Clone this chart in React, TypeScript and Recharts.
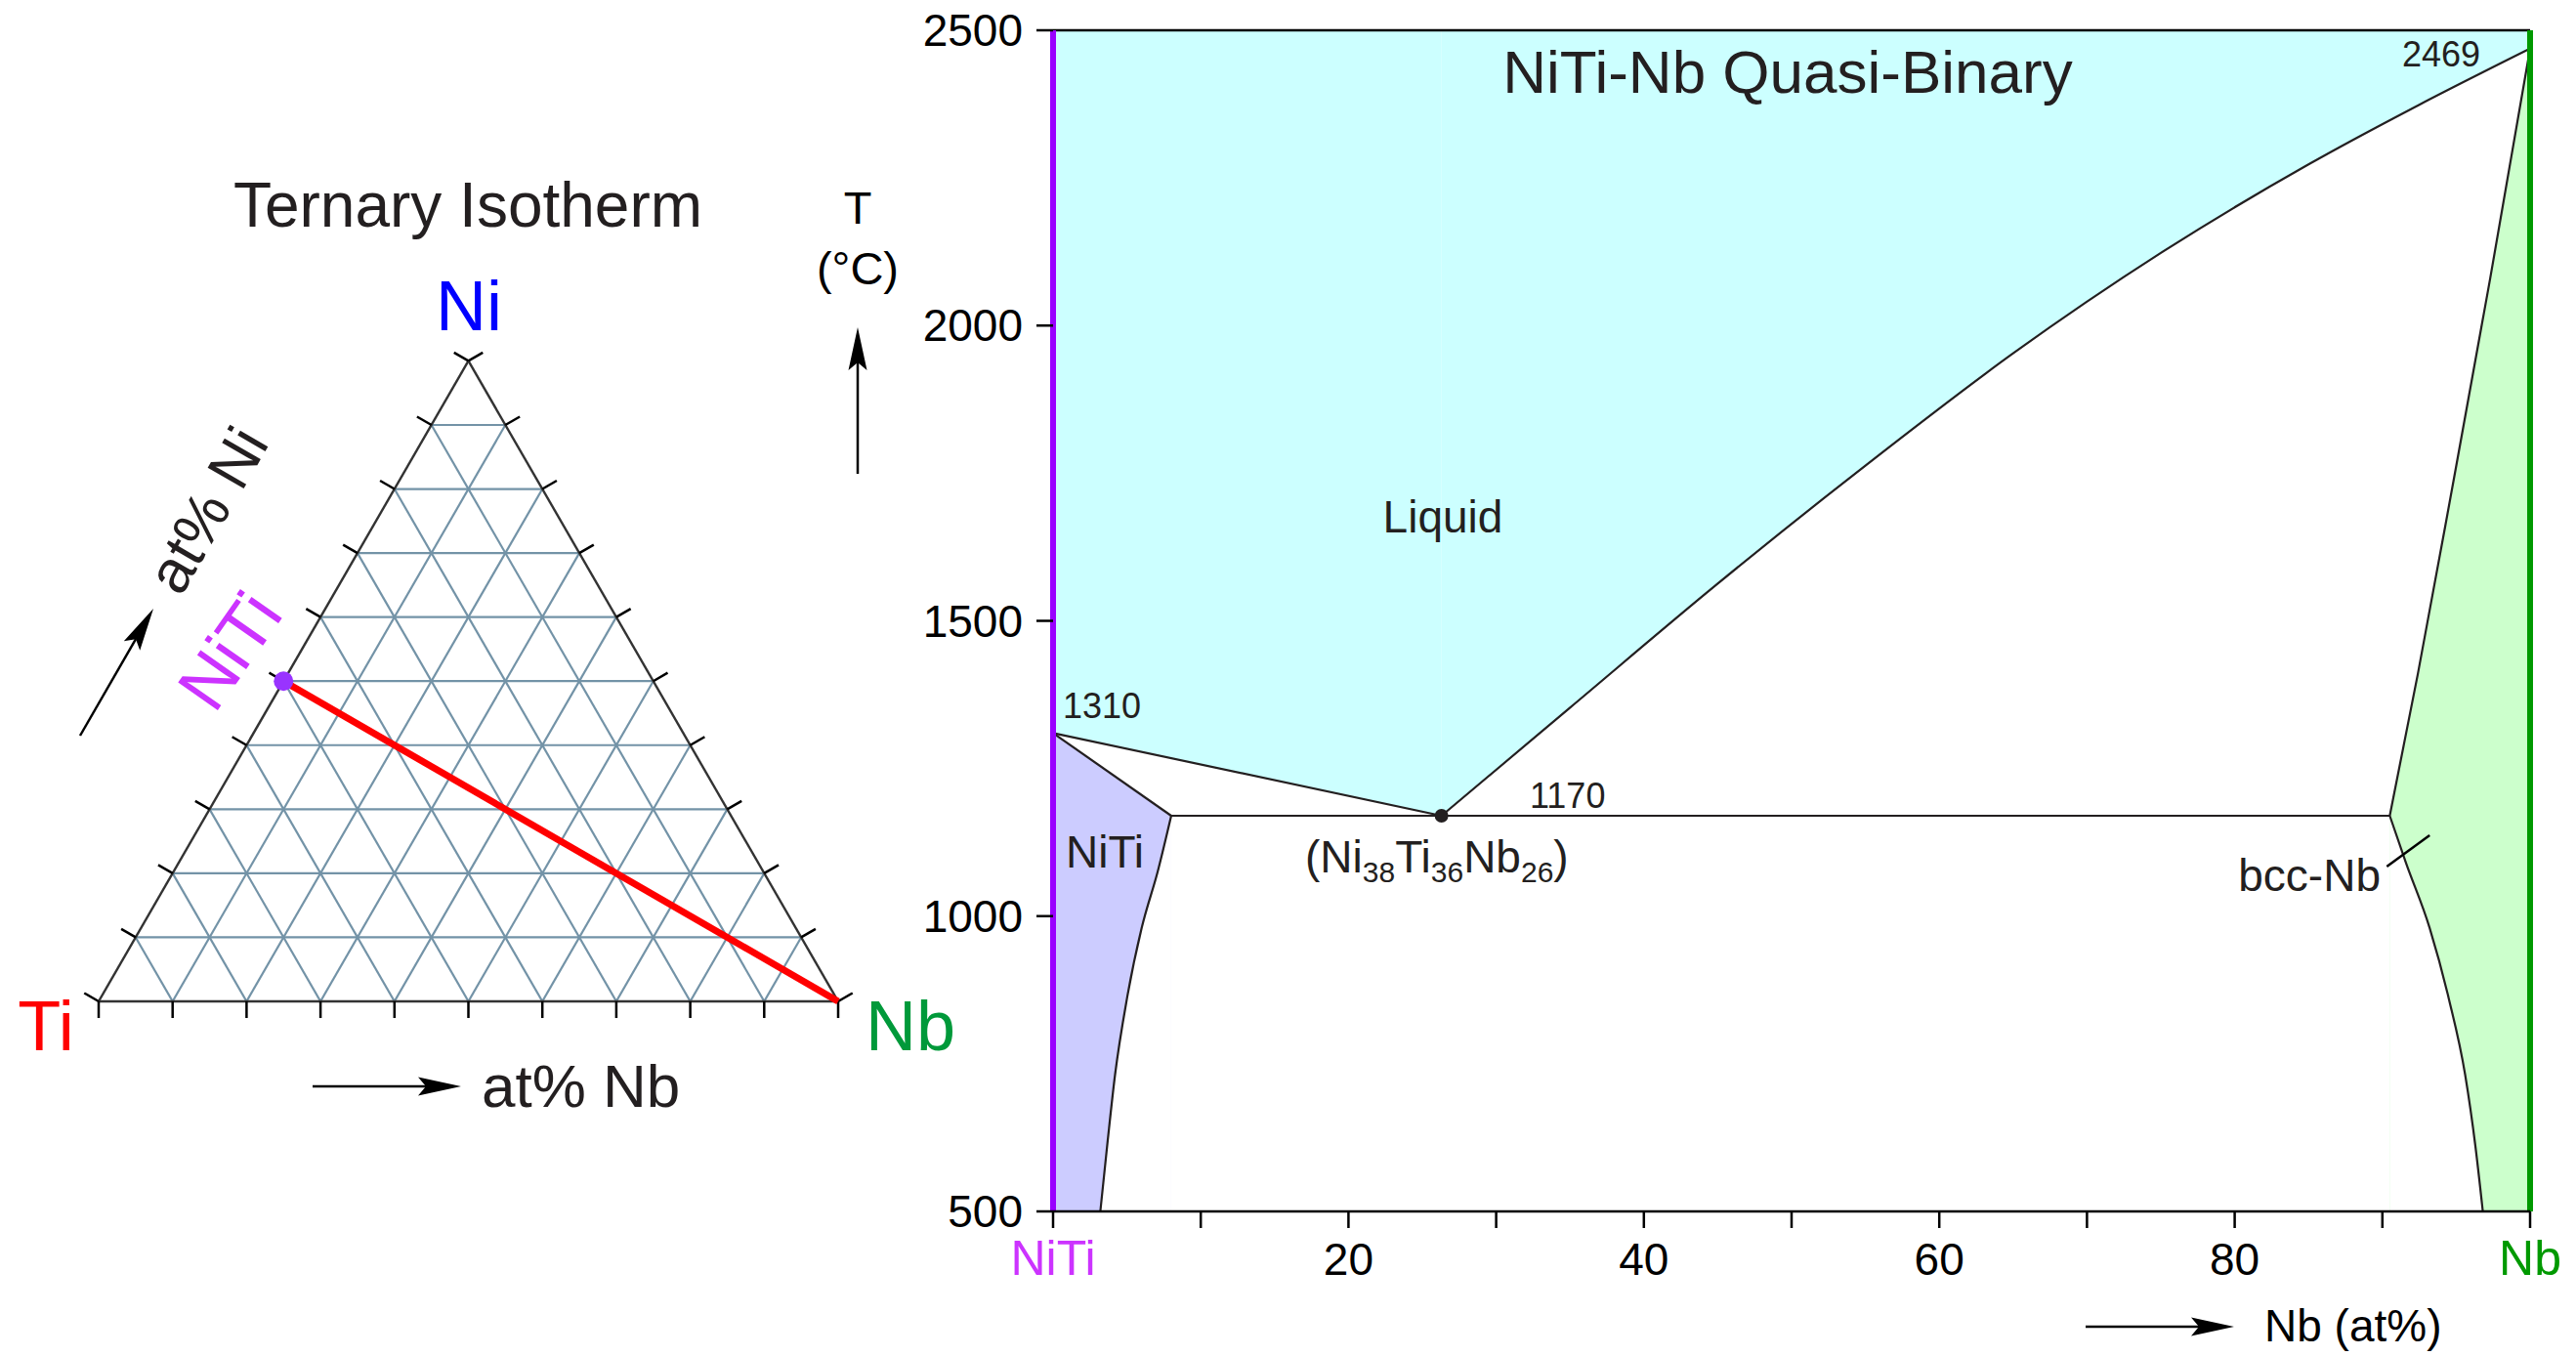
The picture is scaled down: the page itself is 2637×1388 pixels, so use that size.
import React from "react";
import { Area, ComposedChart, Line, Scatter, XAxis, YAxis } from "recharts";

const FONT = "'Liberation Sans', Arial, Helvetica, sans-serif";
const INK = "#231f20";

// NiTi–Nb quasi-binary, x = at% Nb, t = °C
const liquidusLeft = [
  { x: 0, t: 1310 },
  { x: 26.3, t: 1170 }
];
const liquidusRight = [
  { x: 26.3, t: 1170 },
  { x: 35, t: 1353 },
  { x: 45, t: 1563 },
  { x: 55, t: 1763 },
  { x: 65, t: 1953 },
  { x: 75, t: 2123 },
  { x: 85, t: 2273 },
  { x: 92.5, t: 2374 },
  { x: 100, t: 2469 }
];
const niTiSolidus = [
  { x: 0, t: 1310 },
  { x: 8, t: 1170 }
];
const niTiSolvus = [
  { x: 3.2, t: 500 },
  { x: 3.7, t: 620 },
  { x: 4.2, t: 732 },
  { x: 5.0, t: 860 },
  { x: 6.0, t: 980 },
  { x: 7.1, t: 1077 },
  { x: 8, t: 1170 }
];
const eutecticLine = [
  { x: 8, t: 1170 },
  { x: 90.5, t: 1170 }
];
const bccSolidus = [
  { x: 90.5, t: 1170 },
  { x: 92.4, t: 1410 },
  { x: 94.8, t: 1735 },
  { x: 97.3, t: 2080 },
  { x: 100, t: 2469 }
];
const bccSolvus = [
  { x: 90.5, t: 1170 },
  { x: 91.6, t: 1090 },
  { x: 93.2, t: 980 },
  { x: 94.5, t: 860 },
  { x: 95.6, t: 732 },
  { x: 96.3, t: 610 },
  { x: 96.8, t: 500 }
];
const eutecticPoint = [{ x: 26.3, t: 1170 }];
const bccLeader = [
  { x: 90.3, t: 1084 },
  { x: 93.2, t: 1137 }
];

const T_MIN = 500;
const T_MAX = 2500;
const xTicks = [0, 10, 20, 30, 40, 50, 60, 70, 80, 90, 100];
const xTickLabels: Record<number, string> = { 0: "NiTi", 20: "20", 40: "40", 60: "60", 80: "80", 100: "Nb" };
const yTicks = [500, 1000, 1500, 2000, 2500];

// ternary isotherm
const ternaryTicks = [0, 10, 20, 30, 40, 50, 60, 70, 80, 90, 100];
const niTiComposition = { ni: 50, nb: 0 };
const nbComposition = { ni: 0, nb: 100 };

const SQ3 = Math.sqrt(3) / 2;
const toTernary = (ni: number, nb: number) => ({ x: nb + ni / 2, y: ni * SQ3 });
const TICK = 2.25;

const inner = ternaryTicks.filter((k) => k > 0 && k < 100);
const gridSegments = [
  ...inner.map((k) => [toTernary(k, 0), toTernary(k, 100 - k)]),
  ...inner.map((k) => [toTernary(0, k), toTernary(100 - k, k)]),
  ...inner.map((k) => [toTernary(0, 100 - k), toTernary(100 - k, 0)])
];
const edgeSegments = [
  [toTernary(0, 0), toTernary(0, 100)],
  [toTernary(0, 0), toTernary(100, 0)],
  [toTernary(0, 100), toTernary(100, 0)]
];
const tickSegments = [
  ...ternaryTicks.map((k) => {
    const p = toTernary(0, k);
    return [p, { x: p.x, y: p.y - TICK }];
  }),
  ...ternaryTicks.map((k) => {
    const p = toTernary(k, 0);
    return [p, { x: p.x - TICK * SQ3, y: p.y + TICK / 2 }];
  }),
  ...ternaryTicks.map((k) => {
    const p = toTernary(k, 100 - k);
    return [p, { x: p.x + TICK * SQ3, y: p.y + TICK / 2 }];
  })
];
const sectionLine = [
  toTernary(niTiComposition.ni, niTiComposition.nb),
  toTernary(nbComposition.ni, nbComposition.nb)
];

const band = (pts: { x: number; t: number }[], lo?: number, hi?: number) =>
  pts.map((p) => ({ x: p.x, range: [lo ?? p.t, hi ?? p.t] }));

function XTick(props: any) {
  const { x, y, payload } = props;
  const v = payload.value;
  const label = xTickLabels[v];
  if (!label) return <g />;
  const color = v === 0 ? "#cc33ff" : v === 100 ? "#009900" : "#000";
  const size = v === 0 || v === 100 ? 50 : 46;
  return (
    <text x={x} y={y} dy={46} textAnchor="middle" fill={color} fontSize={size} fontFamily={FONT}>
      {label}
    </text>
  );
}

function YTick(props: any) {
  const { x, y, payload } = props;
  return (
    <text x={x} y={y} dx={-12} dy={16} textAnchor="end" fill="#000" fontSize={46} fontFamily={FONT}>
      {payload.value}
    </text>
  );
}

function TernaryChart() {
  return (
    <ComposedChart width={960} height={1388} margin={{ top: 268, right: 26.3, bottom: 287.3, left: 25.3 }}>
      <XAxis dataKey="x" type="number" domain={[-10, 110]} hide height={0} />
      <YAxis type="number" domain={[-10, 100]} hide width={0} />
      {gridSegments.map((seg, i) => (
        <Line key={`g${i}`} data={seg} dataKey="y" stroke="#7393a7" strokeWidth={2.2} dot={false} activeDot={false} isAnimationActive={false} />
      ))}
      {edgeSegments.map((seg, i) => (
        <Line key={`e${i}`} data={seg} dataKey="y" stroke="#333" strokeWidth={2.4} dot={false} activeDot={false} isAnimationActive={false} />
      ))}
      {tickSegments.map((seg, i) => (
        <Line key={`t${i}`} data={seg} dataKey="y" stroke="#000" strokeWidth={2.5} dot={false} activeDot={false} isAnimationActive={false} />
      ))}
      <Line data={sectionLine} dataKey="y" stroke="#ff0000" strokeWidth={7} dot={false} activeDot={false} isAnimationActive={false} />
      <Scatter
        data={[sectionLine[0]]}
        dataKey="y"
        isAnimationActive={false}
        shape={(p: any) => <circle cx={p.cx} cy={p.cy} r={10} fill="#9933ff" />}
      />
    </ComposedChart>
  );
}

function PhaseChart() {
  const common = { isAnimationActive: false, dot: false, activeDot: false, dataKey: "t" } as const;
  return (
    <ComposedChart width={1757} height={1388} margin={{ top: 31, right: 47, bottom: 88, left: 98 }}>
      <Area data={band(liquidusLeft, undefined, T_MAX)} dataKey="range" type="linear" stroke="none" fill="#ccffff" fillOpacity={1} isAnimationActive={false} />
      <Area data={band(liquidusRight, undefined, T_MAX)} dataKey="range" type="monotone" stroke="none" fill="#ccffff" fillOpacity={1} isAnimationActive={false} />
      <Area data={band(niTiSolidus, T_MIN)} dataKey="range" type="linear" stroke="none" fill="#ccccff" fillOpacity={1} isAnimationActive={false} />
      <Area data={band(niTiSolvus, T_MIN)} dataKey="range" type="monotone" stroke="none" fill="#ffffff" fillOpacity={1} isAnimationActive={false} />
      <Area data={band(bccSolidus, T_MIN)} dataKey="range" type="monotone" stroke="none" fill="#ccffcc" fillOpacity={1} isAnimationActive={false} />
      <Area data={band(bccSolvus, T_MIN)} dataKey="range" type="monotone" stroke="none" fill="#ffffff" fillOpacity={1} isAnimationActive={false} />

      <Line data={liquidusLeft} {...common} type="linear" stroke={INK} strokeWidth={2.2} />
      <Line data={liquidusRight} {...common} type="monotone" stroke={INK} strokeWidth={2.2} />
      <Line data={niTiSolidus} {...common} type="linear" stroke={INK} strokeWidth={2.2} />
      <Line data={niTiSolvus} {...common} type="monotone" stroke={INK} strokeWidth={2.2} />
      <Line data={eutecticLine} {...common} type="linear" stroke={INK} strokeWidth={2.2} />
      <Line data={bccSolidus} {...common} type="monotone" stroke={INK} strokeWidth={2.2} />
      <Line data={bccSolvus} {...common} type="monotone" stroke={INK} strokeWidth={2.2} />
      <Line data={bccLeader} {...common} type="linear" stroke="#000" strokeWidth={2.5} />
      <Line data={[{ x: 0, t: T_MAX }, { x: 100, t: T_MAX }]} {...common} type="linear" stroke="#000" strokeWidth={2.5} />
      <Line data={[{ x: 0, t: T_MIN }, { x: 0, t: T_MAX }]} {...common} type="linear" stroke="#9900ff" strokeWidth={6} />
      <Line data={[{ x: 100, t: T_MIN }, { x: 100, t: T_MAX }]} {...common} type="linear" stroke="#009900" strokeWidth={6} />
      <Scatter
        data={eutecticPoint}
        dataKey="t"
        isAnimationActive={false}
        shape={(p: any) => <circle cx={p.cx} cy={p.cy} r={7} fill={INK} />}
      />

      <XAxis
        dataKey="x"
        type="number"
        domain={[0, 100]}
        ticks={xTicks}
        interval={0}
        height={60}
        tickSize={17}
        axisLine={{ stroke: "#000", strokeWidth: 2.5 }}
        tickLine={{ stroke: "#000", strokeWidth: 2.5 }}
        tick={XTick}
      />
      <YAxis
        type="number"
        domain={[T_MIN, T_MAX]}
        ticks={yTicks}
        interval={0}
        width={100}
        tickSize={17}
        axisLine={false}
        tickLine={{ stroke: "#000", strokeWidth: 2.5 }}
        tick={YTick}
      />
    </ComposedChart>
  );
}

function Arrow({ x1, y1, x2, y2 }: { x1: number; y1: number; x2: number; y2: number }) {
  const len = Math.hypot(x2 - x1, y2 - y1);
  const ux = (x2 - x1) / len;
  const uy = (y2 - y1) / len;
  const nx = -uy;
  const ny = ux;
  const head = 44;
  const notch = 36;
  const w = 9.5;
  const bx = x2 - ux * head;
  const by = y2 - uy * head;
  const mx = x2 - ux * notch;
  const my = y2 - uy * notch;
  return (
    <g>
      <line x1={x1} y1={y1} x2={mx} y2={my} stroke="#000" strokeWidth={2.5} />
      <polygon points={`${x2},${y2} ${bx + nx * w},${by + ny * w} ${mx},${my} ${bx - nx * w},${by - ny * w}`} fill="#000" />
    </g>
  );
}

function Annotations() {
  return (
    <svg width={2637} height={1388} style={{ position: "absolute", left: 0, top: 0, pointerEvents: "none" }} fontFamily={FONT}>
      <text x={479} y={232} textAnchor="middle" fontSize={64} fill={INK}>Ternary Isotherm</text>
      <text x={480} y={338} textAnchor="middle" fontSize={72} fill="#0000ff">Ni</text>
      <text x={47} y={1075} textAnchor="middle" fontSize={72} fill="#ff0000">Ti</text>
      <text x={886} y={1075} textAnchor="start" fontSize={72} fill="#00993a">Nb</text>
      <text x={493} y={1133} textAnchor="start" fontSize={62} fill={INK}>at% Nb</text>
      <Arrow x1={320} y1={1112} x2={472} y2={1112} />
      <Arrow x1={82} y1={753} x2={157} y2={623} />
      <text transform="translate(212,522) rotate(-60)" textAnchor="middle" dominantBaseline="central" fontSize={62} fill={INK}>at% Ni</text>
      <text transform="translate(235,666) rotate(-55)" textAnchor="middle" dominantBaseline="central" fontSize={72} fill="#cc33ff">NiTi</text>

      <text x={878} y={229} textAnchor="middle" fontSize={47} fill="#000">T</text>
      <text x={878} y={291} textAnchor="middle" fontSize={47} fill="#000">(°C)</text>
      <Arrow x1={878} y1={485} x2={878} y2={335} />

      <text x={1830} y={95} textAnchor="middle" fontSize={62} fill={INK}>NiTi-Nb Quasi-Binary</text>
      <text x={2539} y={68} textAnchor="end" fontSize={36} fill={INK}>2469</text>
      <text x={1088} y={735} textAnchor="start" fontSize={36} fill={INK}>1310</text>
      <text x={1566} y={827} textAnchor="start" fontSize={36} fill={INK}>1170</text>
      <text x={1477} y={545} textAnchor="middle" fontSize={46} fill={INK}>Liquid</text>
      <text x={1091} y={888} textAnchor="start" fontSize={46} fill={INK}>NiTi</text>
      <text x={1336} y={893} textAnchor="start" fontSize={46} fill={INK}>
        (Ni<tspan fontSize={30} dy={10}>38</tspan>
        <tspan dy={-10}>Ti</tspan>
        <tspan fontSize={30} dy={10}>36</tspan>
        <tspan dy={-10}>Nb</tspan>
        <tspan fontSize={30} dy={10}>26</tspan>
        <tspan dy={-10}>)</tspan>
      </text>
      <text x={2437} y={912} textAnchor="end" fontSize={46} fill={INK}>bcc-Nb</text>

      <Arrow x1={2135} y1={1358} x2={2287} y2={1358} />
      <text x={2318} y={1373} textAnchor="start" fontSize={46} fill="#000">Nb (at%)</text>
    </svg>
  );
}

export default function App() {
  return (
    <div style={{ position: "relative", width: 2637, height: 1388, background: "#fff", overflow: "hidden" }}>
      <style>{`body{margin:0}`}</style>
      <div style={{ position: "absolute", left: 0, top: 0 }}>
        <TernaryChart />
      </div>
      <div style={{ position: "absolute", left: 880, top: 0 }}>
        <PhaseChart />
      </div>
      <Annotations />
    </div>
  );
}
